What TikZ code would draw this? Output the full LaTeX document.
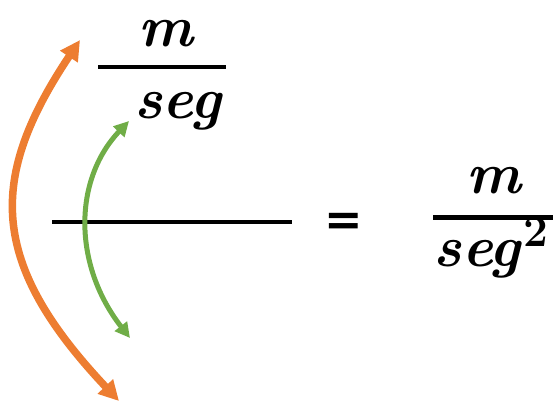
\documentclass[tikz,border=0pt]{standalone}
\usepackage{fontspec}
\newfontfamily\eqfont{DejaVu Sans}
\usetikzlibrary{arrows.meta}
\definecolor{arrorange}{HTML}{ED7D31}
\definecolor{arrgreen}{HTML}{70AD47}
\begin{document}
\begin{tikzpicture}[
  x=1pt, y=-1pt,
  term/.style={inner sep=0, anchor=base, font=\fontsize{58}{64}\selectfont\bfseries\itshape},
  eqsign/.style={inner sep=0, font=\eqfont\bfseries\fontsize{46}{50}\selectfont},
  bar/.style={line width=4pt},
  bigarrow/.style={{Triangle[length=20pt,width=20pt]}-{Triangle[length=20pt,width=20pt]}, line width=7.5pt, arrorange},
  smallarrow/.style={{Triangle[length=15pt,width=15pt]}-{Triangle[length=15pt,width=15pt]}, line width=5pt, arrgreen}
]
\useasboundingbox (0,0) rectangle (553,402);

% Left fraction at the top
\node[term] (topnum) at (166,46) {m};
\coordinate (topbarL) at (98,67);
\coordinate (topbarR) at (226,67);
\node[term] (topden) at (178,118) {seg};
\draw[bar] (topbarL) -- (topbarR);

% Main fraction line
\coordinate (mainL) at (52,222);
\coordinate (mainR) at (292,222);
\draw[line width=3.5pt] (mainL) -- (mainR);

% Equal sign
\node[eqsign] (equal) at (344,224) {=};

% Right fraction
\node[term] (rightnum) at (494,193) {m};
\coordinate (rightbarL) at (433,217);
\coordinate (rightbarR) at (553,217);
\node[term] (rightden) at (491,266) {seg\kern3pt\raisebox{0.33em}{\fontsize{44}{46}\selectfont\upshape 2}};
\draw[line width=5pt] (rightbarL) -- (rightbarR);

% Curved arrows
\coordinate (orangeTop) at (80,40);
\coordinate (orangeBot) at (119,401);
\coordinate (greenTop) at (129,121);
\coordinate (greenBot) at (130,338);
\draw[bigarrow] (orangeBot) .. controls (-12,262) and (-12,178) .. (orangeTop);
\draw[smallarrow] (greenBot) .. controls (73,265) and (73,180) .. (greenTop);

\end{tikzpicture}
\end{document}
